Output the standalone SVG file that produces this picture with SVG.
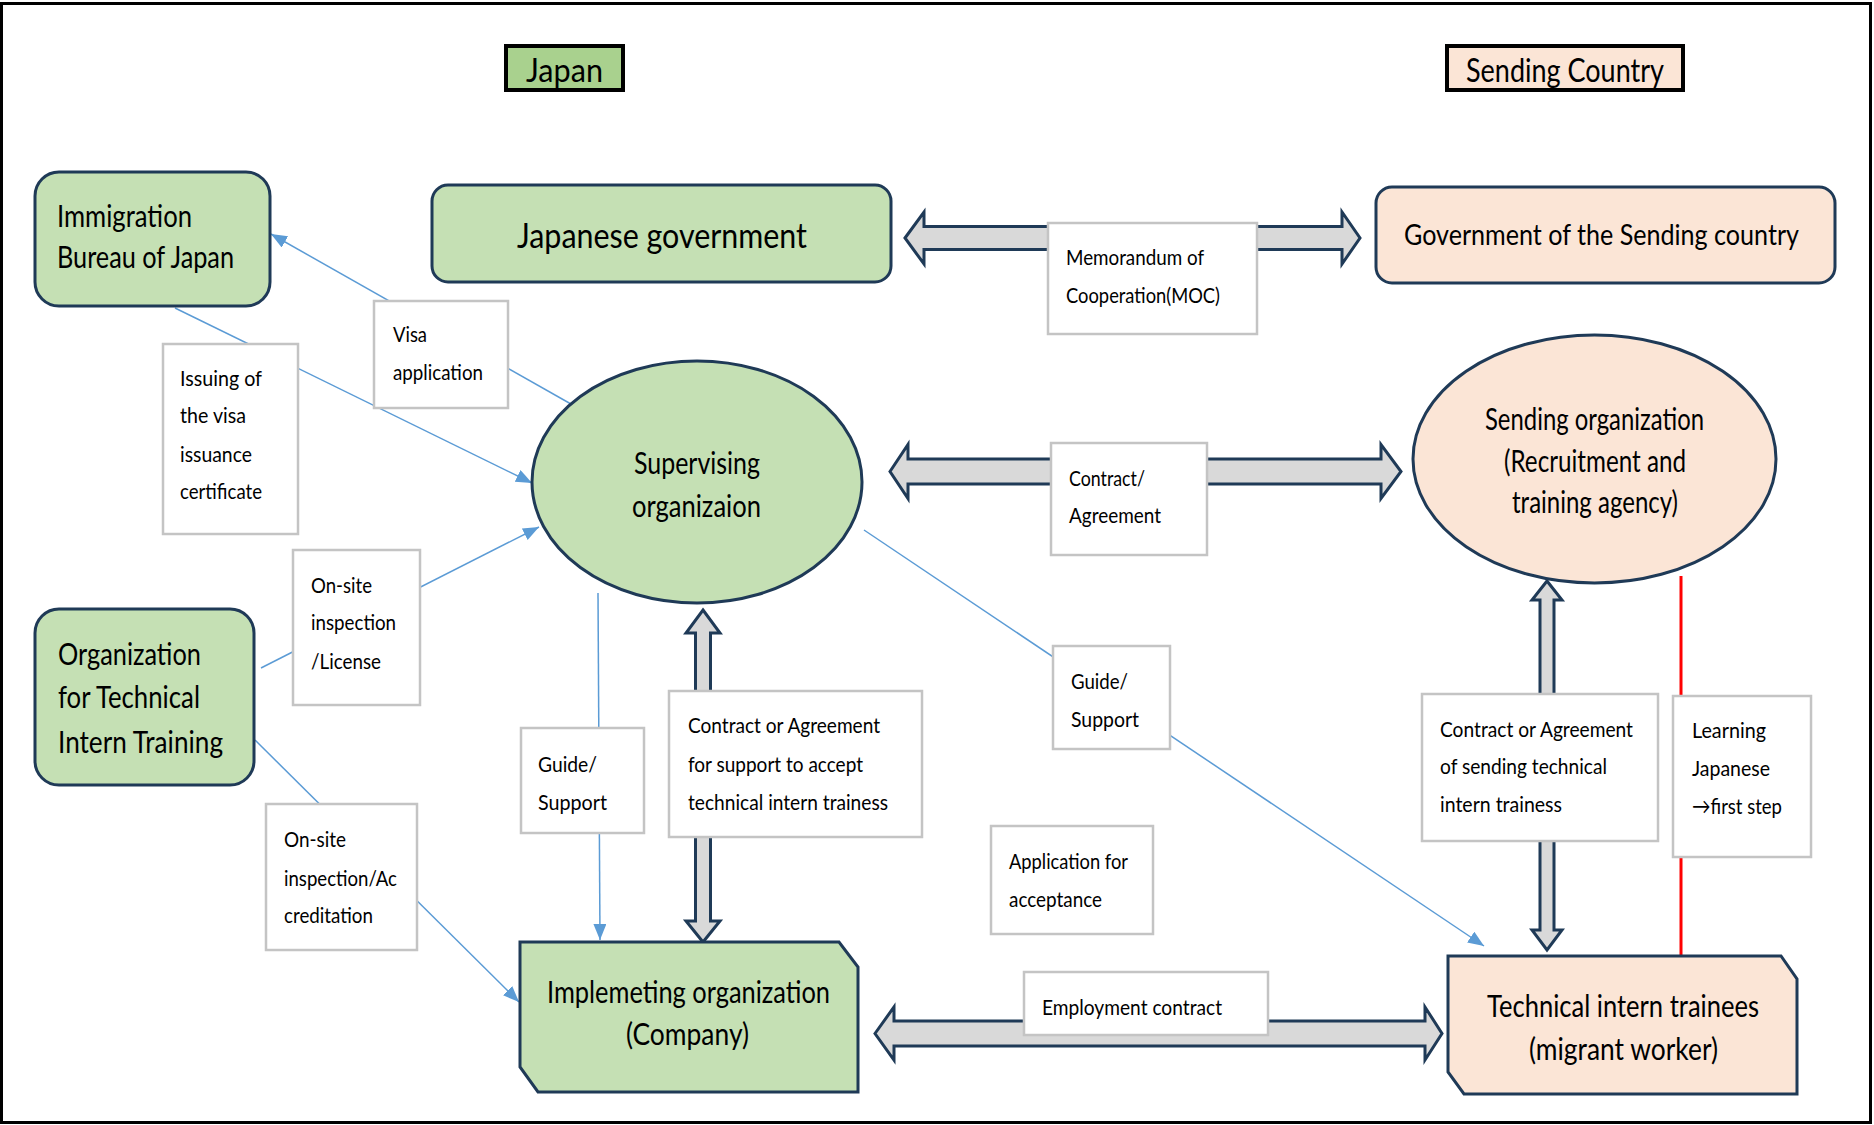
<svg xmlns="http://www.w3.org/2000/svg" width="1874" height="1125" viewBox="0 0 1874 1125">
<defs>
<marker id="ah" markerUnits="userSpaceOnUse" markerWidth="17" markerHeight="14" refX="16" refY="6.5" orient="auto">
<path d="M0,0 L16,6.5 L0,13 z" fill="#5b9bd5"/>
</marker>
<style>
text{font-family:Lato,"Open Sans","Liberation Sans",sans-serif;fill:#000}
.lb{font-size:22px}
.nd{font-size:31px}
.green{fill:#c5e0b4;stroke:#1f3a57;stroke-width:3}
.peach{fill:#fbe5d6;stroke:#1f3a57;stroke-width:3}
.box{fill:#fff;stroke:#c4c4c4;stroke-width:2.5}
.blk{fill:#d9d9d9;stroke:#1f3a57;stroke-width:3;stroke-linejoin:miter}
.thin{fill:none;stroke:#5b9bd5;stroke-width:1.5}
</style>
</defs>
<rect x="1.5" y="3.5" width="1869" height="1119" fill="#fff" stroke="#000" stroke-width="3"/>

<g id="connectors">
<path class="thin" d="M578,408 L271,234" marker-end="url(#ah)"/>
<path class="thin" d="M175,308 L532,483" marker-end="url(#ah)"/>
<path class="thin" d="M261,668 L539,527" marker-end="url(#ah)"/>
<path class="thin" d="M255,740 L519,1002" marker-end="url(#ah)"/>
<path class="thin" d="M598,593 L600,940" marker-end="url(#ah)"/>
<path class="thin" d="M864,530 L1484,946" marker-end="url(#ah)"/>
<path d="M1681,576 V956" stroke="#ff0000" stroke-width="3" fill="none"/>
<polygon id="arrow-moc" class="blk" points="905,238 924,212 924,226.5 1342,226.5 1342,212 1360,238 1342,264 1342,249.5 924,249.5 924,264"/>
<polygon id="arrow-contract" class="blk" points="890,471.5 908,444.5 908,459 1381,459 1381,444.5 1401,471.5 1381,498.5 1381,484 908,484 908,498.5"/>
<polygon id="arrow-employment" class="blk" points="875,1033.5 894,1007 894,1021 1425,1021 1425,1007 1442,1033.5 1425,1060 1425,1046 894,1046 894,1060"/>
<polygon id="arrow-sup-impl" class="blk" points="703,610 720,633 710.5,633 710.5,921 720,921 703,942 686,921 695.5,921 695.5,633 686,633"/>
<polygon id="arrow-send-tech" class="blk" points="1547,581 1562,600 1554,600 1554,930 1562,930 1547,950 1532,930 1540,930 1540,600 1532,600"/>
</g>

<g id="label-japan">
<rect x="506" y="46" width="117" height="44" fill="#a9d18e" stroke="#000" stroke-width="4"/>
<text x="526" y="82" font-size="33" textLength="77" lengthAdjust="spacingAndGlyphs">Japan</text>
</g>
<g id="label-sending-country">
<rect x="1447" y="46" width="236" height="44" fill="#fbe5d6" stroke="#000" stroke-width="4"/>
<text x="1466" y="82" font-size="32" textLength="198" lengthAdjust="spacingAndGlyphs">Sending Country</text>
</g>

<g id="node-immigration">
<rect class="green" x="35" y="172" width="235" height="134" rx="24"/>
<text class="nd" x="57" y="227" font-size="32" textLength="135" lengthAdjust="spacingAndGlyphs">Immigration</text>
<text class="nd" x="57" y="268" font-size="32" textLength="177" lengthAdjust="spacingAndGlyphs">Bureau of Japan</text>
</g>
<g id="node-japanese-government">
<rect class="green" x="432" y="185" width="459" height="97" rx="16"/>
<text x="517" y="248" font-size="35" textLength="290" lengthAdjust="spacingAndGlyphs">Japanese government</text>
</g>
<g id="node-government-sending">
<rect class="peach" x="1376" y="187" width="459" height="96" rx="16"/>
<text x="1404" y="245" font-size="28" textLength="395" lengthAdjust="spacingAndGlyphs">Government of the Sending country</text>
</g>
<g id="node-supervising">
<ellipse class="green" cx="697" cy="482" rx="165" ry="121"/>
<text class="nd" x="634" y="474" textLength="126" lengthAdjust="spacingAndGlyphs">Supervising</text>
<text class="nd" x="632" y="517" textLength="129" lengthAdjust="spacingAndGlyphs">organizaion</text>
</g>
<g id="node-sending-organization">
<ellipse class="peach" cx="1594.5" cy="459" rx="181.5" ry="124"/>
<text class="nd" x="1485" y="430" font-size="29" textLength="219" lengthAdjust="spacingAndGlyphs">Sending organization</text>
<text class="nd" x="1504" y="472" font-size="29" textLength="182" lengthAdjust="spacingAndGlyphs">(Recruitment and</text>
<text class="nd" x="1512" y="513" font-size="29" textLength="166" lengthAdjust="spacingAndGlyphs">training agency)</text>
</g>
<g id="node-otit">
<rect class="green" x="35" y="609" width="219" height="176" rx="24"/>
<text class="nd" x="58" y="665" font-size="30" textLength="143" lengthAdjust="spacingAndGlyphs">Organization</text>
<text class="nd" x="58" y="708" font-size="30" textLength="142" lengthAdjust="spacingAndGlyphs">for Technical</text>
<text class="nd" x="58" y="753" font-size="30" textLength="165" lengthAdjust="spacingAndGlyphs">Intern Training</text>
</g>
<g id="node-implementing">
<polygon class="green" points="520,942 839,942 858,967 858,1092 538,1092 520,1067"/>
<text class="nd" x="547" y="1003" font-size="30" textLength="283" lengthAdjust="spacingAndGlyphs">Implemeting organization</text>
<text class="nd" x="626" y="1045" font-size="30" textLength="123" lengthAdjust="spacingAndGlyphs">(Company)</text>
</g>
<g id="node-technical-trainees">
<polygon class="peach" points="1448,956 1781,956 1797,979 1797,1094 1464,1094 1448,1072"/>
<text class="nd" x="1487" y="1017" font-size="30" textLength="272" lengthAdjust="spacingAndGlyphs">Technical intern trainees</text>
<text class="nd" x="1529" y="1060" font-size="30" textLength="189" lengthAdjust="spacingAndGlyphs">(migrant worker)</text>
</g>

<g id="labels">
<g id="lbl-moc">
<rect class="box" x="1048" y="223" width="209" height="111"/>
<text class="lb" x="1066" y="265" textLength="138" lengthAdjust="spacingAndGlyphs">Memorandum of</text>
<text class="lb" x="1066" y="303" textLength="154" lengthAdjust="spacingAndGlyphs">Cooperation(MOC)</text>
</g>
<g id="lbl-visa">
<rect class="box" x="374" y="301" width="134" height="107"/>
<text class="lb" x="393" y="342" textLength="34" lengthAdjust="spacingAndGlyphs">Visa</text>
<text class="lb" x="393" y="380" textLength="90" lengthAdjust="spacingAndGlyphs">application</text>
</g>
<g id="lbl-issuing">
<rect class="box" x="163" y="344" width="135" height="190"/>
<text class="lb" x="180" y="386" textLength="82" lengthAdjust="spacingAndGlyphs">Issuing of</text>
<text class="lb" x="180" y="423" textLength="66" lengthAdjust="spacingAndGlyphs">the visa</text>
<text class="lb" x="180" y="462" textLength="72" lengthAdjust="spacingAndGlyphs">issuance</text>
<text class="lb" x="180" y="499" textLength="82" lengthAdjust="spacingAndGlyphs">certificate</text>
</g>
<g id="lbl-contract">
<rect class="box" x="1051" y="443" width="156" height="112"/>
<text class="lb" x="1069" y="486" textLength="76" lengthAdjust="spacingAndGlyphs">Contract/</text>
<text class="lb" x="1069" y="523" textLength="92" lengthAdjust="spacingAndGlyphs">Agreement</text>
</g>
<g id="lbl-onsite-license">
<rect class="box" x="293" y="550" width="127" height="155"/>
<text class="lb" x="311" y="593" textLength="61" lengthAdjust="spacingAndGlyphs">On-site</text>
<text class="lb" x="311" y="630" textLength="85" lengthAdjust="spacingAndGlyphs">inspection</text>
<text class="lb" x="311" y="669" textLength="70" lengthAdjust="spacingAndGlyphs">/License</text>
</g>
<g id="lbl-guide-left">
<rect class="box" x="521" y="728" width="123" height="105"/>
<text class="lb" x="538" y="772" textLength="59" lengthAdjust="spacingAndGlyphs">Guide/</text>
<text class="lb" x="538" y="810" textLength="69" lengthAdjust="spacingAndGlyphs">Support</text>
</g>
<g id="lbl-contract-support">
<rect class="box" x="669" y="691" width="253" height="146"/>
<text class="lb" x="688" y="733" textLength="192" lengthAdjust="spacingAndGlyphs">Contract or Agreement</text>
<text class="lb" x="688" y="772" textLength="175" lengthAdjust="spacingAndGlyphs">for support to accept</text>
<text class="lb" x="688" y="810" textLength="200" lengthAdjust="spacingAndGlyphs">technical intern trainess</text>
</g>
<g id="lbl-onsite-accreditation">
<rect class="box" x="266" y="804" width="151" height="146"/>
<text class="lb" x="284" y="847" textLength="62" lengthAdjust="spacingAndGlyphs">On-site</text>
<text class="lb" x="284" y="886" textLength="113" lengthAdjust="spacingAndGlyphs">inspection/Ac</text>
<text class="lb" x="284" y="923" textLength="89" lengthAdjust="spacingAndGlyphs">creditation</text>
</g>
<g id="lbl-guide-right">
<rect class="box" x="1053" y="646" width="117" height="103"/>
<text class="lb" x="1071" y="689" textLength="57" lengthAdjust="spacingAndGlyphs">Guide/</text>
<text class="lb" x="1071" y="727" textLength="68" lengthAdjust="spacingAndGlyphs">Support</text>
</g>
<g id="lbl-application">
<rect class="box" x="991" y="826" width="162" height="108"/>
<text class="lb" x="1009" y="869" textLength="119" lengthAdjust="spacingAndGlyphs">Application for</text>
<text class="lb" x="1009" y="907" textLength="93" lengthAdjust="spacingAndGlyphs">acceptance</text>
</g>
<g id="lbl-employment">
<rect class="box" x="1024" y="972" width="244" height="63"/>
<text class="lb" x="1042" y="1015" textLength="180" lengthAdjust="spacingAndGlyphs">Employment contract</text>
</g>
<g id="lbl-contract-sending">
<rect class="box" x="1422" y="694" width="236" height="147"/>
<text class="lb" x="1440" y="737" textLength="193" lengthAdjust="spacingAndGlyphs">Contract or Agreement</text>
<text class="lb" x="1440" y="774" textLength="167" lengthAdjust="spacingAndGlyphs">of sending technical</text>
<text class="lb" x="1440" y="812" textLength="122" lengthAdjust="spacingAndGlyphs">intern trainess</text>
</g>
<g id="lbl-learning">
<rect class="box" x="1673" y="696" width="138" height="161"/>
<text class="lb" x="1692" y="738" textLength="74" lengthAdjust="spacingAndGlyphs">Learning</text>
<text class="lb" x="1692" y="776" textLength="78" lengthAdjust="spacingAndGlyphs">Japanese</text>
<text class="lb" x="1692" y="814" textLength="90" lengthAdjust="spacingAndGlyphs">→first step</text>
</g>
</g>
</svg>
